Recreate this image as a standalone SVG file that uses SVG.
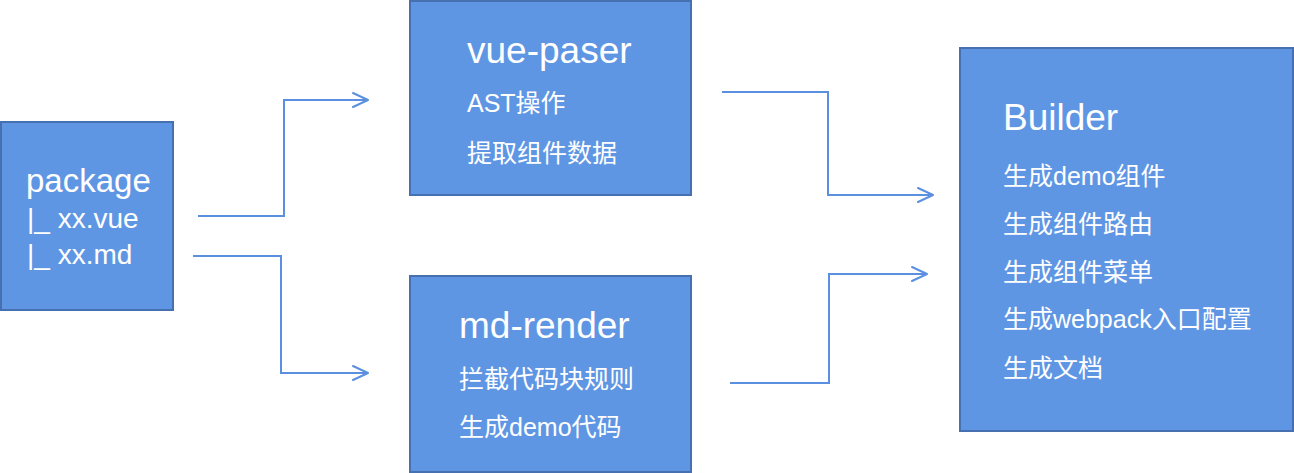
<svg xmlns="http://www.w3.org/2000/svg" width="1294" height="473" viewBox="0 0 1294 473">
<style>
.box{fill:#5f96e4;stroke:#4670b0;stroke-width:2}
.t{fill:#ffffff;font-family:"Liberation Sans","Noto Sans CJK SC",sans-serif}
.h{font-size:37px}
.s{font-size:25px}
.conn{fill:none;stroke:#5b8fe0;stroke-width:2}
.arr{fill:none;stroke:#5b8fe0;stroke-width:2;stroke-linecap:round;stroke-linejoin:round}
</style>
<rect width="1294" height="473" fill="#ffffff"/>
<g id="connectors">
<polyline class="conn" points="198,216 284,216 284,100 367,100"/>
<polyline class="arr" points="353,93 368,100 353,107"/>
<polyline class="conn" points="193,256 281,256 281,373 367,373"/>
<polyline class="arr" points="353,366 368,373 353,380"/>
<polyline class="conn" points="722,92 828,92 828,195 932,195"/>
<polyline class="arr" points="918,188 933,195 918,202"/>
<polyline class="conn" points="730,383 829,383 829,274 926,274"/>
<polyline class="arr" points="912,267 927,274 912,281"/>
</g>
<g id="package">
<rect class="box" x="1" y="122" width="172" height="188"/>
<text class="t" x="26" y="192" font-size="33">package</text>
<text class="t" x="27" y="228" font-size="28">|_ xx.vue</text>
<text class="t" x="27" y="264" font-size="28">|_ xx.md</text>
</g>
<g id="vue-paser">
<rect class="box" x="410" y="1" width="281" height="194"/>
<text class="t h" x="467" y="63">vue-paser</text>
<text class="t s" x="467" y="112">AST操作</text>
<text class="t s" x="467" y="162">提取组件数据</text>
</g>
<g id="md-render">
<rect class="box" x="410" y="276" width="281" height="196"/>
<text class="t h" x="459" y="338">md-render</text>
<text class="t s" x="459" y="388">拦截代码块规则</text>
<text class="t s" x="459" y="436">生成demo代码</text>
</g>
<g id="builder">
<rect class="box" x="960" y="48" width="333" height="383"/>
<text class="t h" x="1003" y="130">Builder</text>
<text class="t s" x="1003" y="185">生成demo组件</text>
<text class="t s" x="1003" y="233">生成组件路由</text>
<text class="t s" x="1003" y="281">生成组件菜单</text>
<text class="t s" x="1003" y="328">生成webpack入口配置</text>
<text class="t s" x="1003" y="377">生成文档</text>
</g>
</svg>
